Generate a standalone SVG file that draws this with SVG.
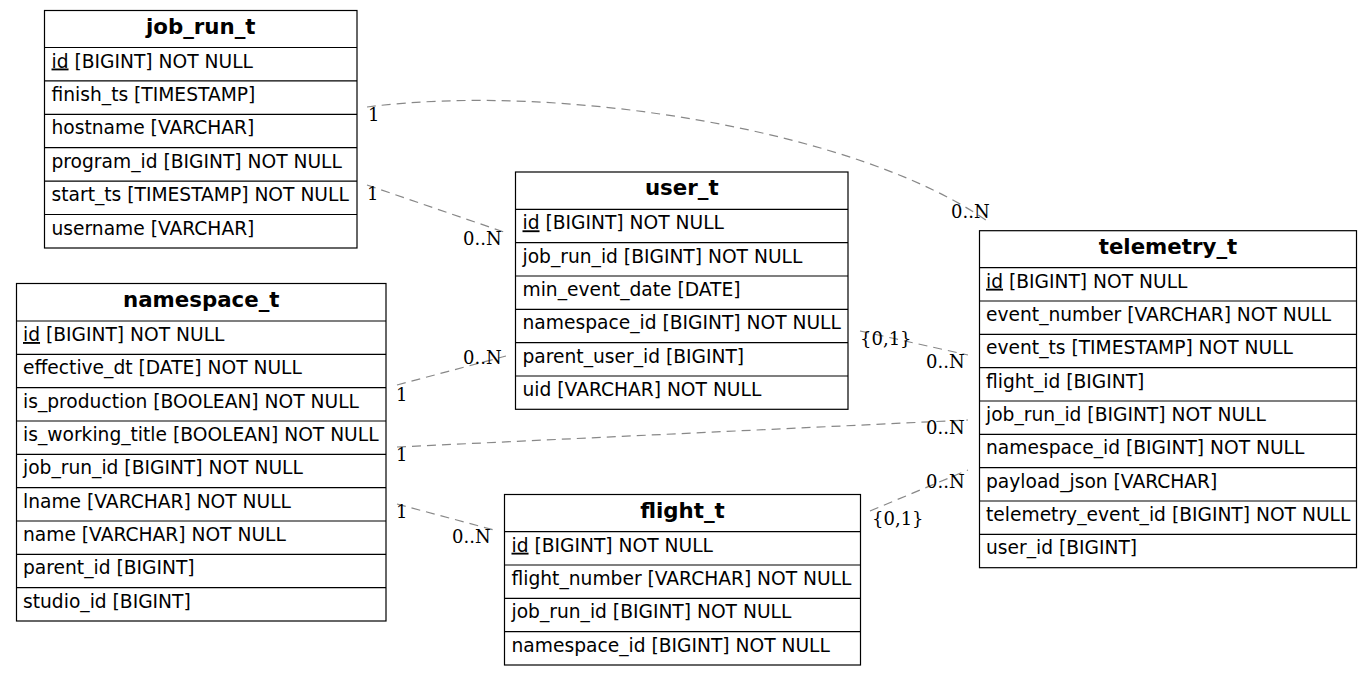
<svg xmlns="http://www.w3.org/2000/svg" width="1372" height="676" viewBox="0 0 1372 676">
<style>
.box{fill:#fff;stroke:#000;stroke-width:1.2}
.sep{stroke:#000;stroke-width:1.2}
.hd{font-family:"DejaVu Sans",sans-serif;font-weight:bold;font-size:21.33px;fill:#000;text-anchor:middle}
.fd{font-family:"DejaVu Sans",sans-serif;font-size:18.67px;fill:#000}
.pk{text-decoration:underline}
.edge{fill:none;stroke:#888;stroke-width:1.2;stroke-dasharray:9,6}
.lbl{font-family:"DejaVu Serif",serif;font-size:18px;fill:#000}
</style>
<rect width="1372" height="676" fill="#fff"/>

<g id="connectors">
<path class="edge" d="M367,107 C560,82 860,130 990,223"/>
<path class="edge" d="M367,185 L504,232"/>
<path class="edge" d="M397,385 L506,356"/>
<path class="edge" d="M397,447 L968,420"/>
<path class="edge" d="M397,504 L494,530"/>
<path class="edge" d="M860,331 L968,355"/>
<path class="edge" d="M870,511 L968,470"/>
<text class="lbl" x="368" y="121">1</text>
<text class="lbl" x="951" y="218">0..N</text>
<text class="lbl" x="367" y="200">1</text>
<text class="lbl" x="463" y="245">0..N</text>
<text class="lbl" x="396" y="401">1</text>
<text class="lbl" x="463" y="364">0..N</text>
<text class="lbl" x="396" y="461">1</text>
<text class="lbl" x="926" y="434">0..N</text>
<text class="lbl" x="396" y="518">1</text>
<text class="lbl" x="452" y="543">0..N</text>
<text class="lbl" x="860" y="345">{0,1}</text>
<text class="lbl" x="926" y="368">0..N</text>
<text class="lbl" x="872" y="525">{0,1}</text>
<text class="lbl" x="926" y="488">0..N</text>
</g>

<g id="job_run_t" transform="translate(44.5,10.5)">
<rect class="box" x="0" y="0" width="312.5" height="237.5"/>
<line class="sep" x1="0" y1="37" x2="312.5" y2="37"/>
<line class="sep" x1="0" y1="70.4" x2="312.5" y2="70.4"/>
<line class="sep" x1="0" y1="103.8" x2="312.5" y2="103.8"/>
<line class="sep" x1="0" y1="137.2" x2="312.5" y2="137.2"/>
<line class="sep" x1="0" y1="170.6" x2="312.5" y2="170.6"/>
<line class="sep" x1="0" y1="204" x2="312.5" y2="204"/>
<text class="hd" x="156.25" y="23">job_run_t</text>
<text class="fd" x="7" y="57"><tspan class="pk">id</tspan> [BIGINT] NOT NULL</text>
<text class="fd" x="7" y="90.4">finish_ts [TIMESTAMP]</text>
<text class="fd" x="7" y="123.8">hostname [VARCHAR]</text>
<text class="fd" x="7" y="157.2">program_id [BIGINT] NOT NULL</text>
<text class="fd" x="7" y="190.6">start_ts [TIMESTAMP] NOT NULL</text>
<text class="fd" x="7" y="224">username [VARCHAR]</text>
</g>

<g id="namespace_t" transform="translate(16.5,283.5)">
<rect class="box" x="0" y="0" width="369.5" height="337.5"/>
<line class="sep" x1="0" y1="37.5" x2="369.5" y2="37.5"/>
<line class="sep" x1="0" y1="70.8" x2="369.5" y2="70.8"/>
<line class="sep" x1="0" y1="104.2" x2="369.5" y2="104.2"/>
<line class="sep" x1="0" y1="137.5" x2="369.5" y2="137.5"/>
<line class="sep" x1="0" y1="170.8" x2="369.5" y2="170.8"/>
<line class="sep" x1="0" y1="204.2" x2="369.5" y2="204.2"/>
<line class="sep" x1="0" y1="237.5" x2="369.5" y2="237.5"/>
<line class="sep" x1="0" y1="270.8" x2="369.5" y2="270.8"/>
<line class="sep" x1="0" y1="304.2" x2="369.5" y2="304.2"/>
<text class="hd" x="184.75" y="23">namespace_t</text>
<text class="fd" x="6.5" y="57.5"><tspan class="pk">id</tspan> [BIGINT] NOT NULL</text>
<text class="fd" x="6.5" y="90.8">effective_dt [DATE] NOT NULL</text>
<text class="fd" x="6.5" y="124.2">is_production [BOOLEAN] NOT NULL</text>
<text class="fd" x="6.5" y="157.5">is_working_title [BOOLEAN] NOT NULL</text>
<text class="fd" x="6.5" y="190.8">job_run_id [BIGINT] NOT NULL</text>
<text class="fd" x="6.5" y="224.2">lname [VARCHAR] NOT NULL</text>
<text class="fd" x="6.5" y="257.5">name [VARCHAR] NOT NULL</text>
<text class="fd" x="6.5" y="290.8">parent_id [BIGINT]</text>
<text class="fd" x="6.5" y="324.2">studio_id [BIGINT]</text>
</g>

<g id="user_t" transform="translate(515.5,172)">
<rect class="box" x="0" y="0" width="332.5" height="237.3"/>
<line class="sep" x1="0" y1="37.3" x2="332.5" y2="37.3"/>
<line class="sep" x1="0" y1="70.7" x2="332.5" y2="70.7"/>
<line class="sep" x1="0" y1="104" x2="332.5" y2="104"/>
<line class="sep" x1="0" y1="137.3" x2="332.5" y2="137.3"/>
<line class="sep" x1="0" y1="170.7" x2="332.5" y2="170.7"/>
<line class="sep" x1="0" y1="204" x2="332.5" y2="204"/>
<text class="hd" x="166.25" y="23">user_t</text>
<text class="fd" x="7" y="57.3"><tspan class="pk">id</tspan> [BIGINT] NOT NULL</text>
<text class="fd" x="7" y="90.7">job_run_id [BIGINT] NOT NULL</text>
<text class="fd" x="7" y="124">min_event_date [DATE]</text>
<text class="fd" x="7" y="157.3">namespace_id [BIGINT] NOT NULL</text>
<text class="fd" x="7" y="190.7">parent_user_id [BIGINT]</text>
<text class="fd" x="7" y="224">uid [VARCHAR] NOT NULL</text>
</g>

<g id="flight_t" transform="translate(504.5,494.5)">
<rect class="box" x="0" y="0" width="356" height="170.5"/>
<line class="sep" x1="0" y1="37.2" x2="356" y2="37.2"/>
<line class="sep" x1="0" y1="70.5" x2="356" y2="70.5"/>
<line class="sep" x1="0" y1="103.8" x2="356" y2="103.8"/>
<line class="sep" x1="0" y1="137.2" x2="356" y2="137.2"/>
<text class="hd" x="178" y="23">flight_t</text>
<text class="fd" x="7" y="57.2"><tspan class="pk">id</tspan> [BIGINT] NOT NULL</text>
<text class="fd" x="7" y="90.5">flight_number [VARCHAR] NOT NULL</text>
<text class="fd" x="7" y="123.8">job_run_id [BIGINT] NOT NULL</text>
<text class="fd" x="7" y="157.2">namespace_id [BIGINT] NOT NULL</text>
</g>

<g id="telemetry_t" transform="translate(979.5,230.7)">
<rect class="box" x="0" y="0" width="377" height="337"/>
<line class="sep" x1="0" y1="37" x2="377" y2="37"/>
<line class="sep" x1="0" y1="70.3" x2="377" y2="70.3"/>
<line class="sep" x1="0" y1="103.6" x2="377" y2="103.6"/>
<line class="sep" x1="0" y1="137" x2="377" y2="137"/>
<line class="sep" x1="0" y1="170.3" x2="377" y2="170.3"/>
<line class="sep" x1="0" y1="203.6" x2="377" y2="203.6"/>
<line class="sep" x1="0" y1="237" x2="377" y2="237"/>
<line class="sep" x1="0" y1="270.3" x2="377" y2="270.3"/>
<line class="sep" x1="0" y1="303.6" x2="377" y2="303.6"/>
<text class="hd" x="188.5" y="23">telemetry_t</text>
<text class="fd" x="6.5" y="57"><tspan class="pk">id</tspan> [BIGINT] NOT NULL</text>
<text class="fd" x="6.5" y="90.3">event_number [VARCHAR] NOT NULL</text>
<text class="fd" x="6.5" y="123.6">event_ts [TIMESTAMP] NOT NULL</text>
<text class="fd" x="6.5" y="157">flight_id [BIGINT]</text>
<text class="fd" x="6.5" y="190.3">job_run_id [BIGINT] NOT NULL</text>
<text class="fd" x="6.5" y="223.6">namespace_id [BIGINT] NOT NULL</text>
<text class="fd" x="6.5" y="257">payload_json [VARCHAR]</text>
<text class="fd" x="6.5" y="290.3">telemetry_event_id [BIGINT] NOT NULL</text>
<text class="fd" x="6.5" y="323.6">user_id [BIGINT]</text>
</g>
</svg>
